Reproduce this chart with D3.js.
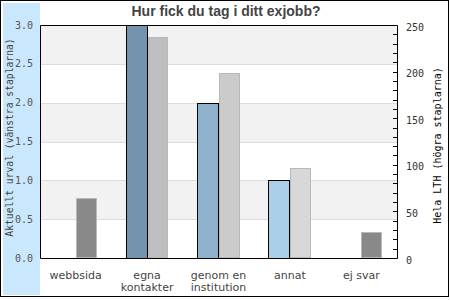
<!DOCTYPE html>
<html>
<head>
<meta charset="utf-8">
<script src="https://cdn.jsdelivr.net/npm/d3@7"></script>
<style>
  body { margin: 0; background: #fff; }
  svg { display: block; }
</style>
</head>
<body>
<div id="chart"></div>
<script>
// Data
const categories = ["webbsida", "egna\nkontakter", "genom en\ninstitution", "annat", "ej svar"]
const urval = [0, 3, 2, 1, 0]          // left bars (Aktuellt urval)
const helaLTH = [64, 237, 199, 97, 28]  // right bars (Hela LTH)
const urvalColors = ["#7393ae", "#7393ae", "#8eb1cc", "#abcfe9", "#7393ae"]
const lthColors = ["#898989", "#bebebe", "#cbcbcb", "#d8d8d8", "#898989"]
const leftTicks = [0, 0.5, 1, 1.5, 2, 2.5, 3]
const rightTicks = [0, 50, 100, 150, 200, 250]

const width = 450, height = 300
const plot = {left: 40, right: 397, top: 25, bottom: 258}
const mono = "'DejaVu Sans Mono', monospace"
const sans = "'DejaVu Sans', sans-serif"

var svg = d3.select("#chart").append("svg")
    .attr("width", width)
    .attr("height", height)

// outer frame + blue band
svg.append("rect")
    .attr("x", 0.5).attr("y", 0.5)
    .attr("width", 448).attr("height", 296)
    .attr("fill", "#fff").attr("stroke", "#000")
svg.append("rect")
    .attr("x", 3).attr("y", 3)
    .attr("width", 37).attr("height", 292)
    .attr("fill", "#c9e7fd")

// scales
var x = d3.scaleBand()
    .domain(d3.range(categories.length))
    .range([plot.left, plot.right])
    .paddingInner(0.4)
    .paddingOuter(0.2)
var x1 = d3.scaleBand().domain(["l", "r"]).range([0, x.bandwidth()])
var yL = d3.scaleLinear().domain([0, 3]).range([plot.bottom, plot.top])
var yR = d3.scaleLinear().domain([0, 250]).range([plot.bottom, plot.top])

// background bands
svg.append("rect")
    .attr("x", plot.left).attr("y", plot.top)
    .attr("width", plot.right - plot.left).attr("height", plot.bottom - plot.top)
    .attr("fill", "#fff")
var bandsG = svg.append("g")
for (let i = 0; i < leftTicks.length - 1; i++) {
    if (i % 2 == 1) {
        bandsG.append("rect")
            .attr("x", plot.left)
            .attr("y", Math.round(yL(leftTicks[i + 1])))
            .attr("width", plot.right - plot.left)
            .attr("height", Math.round(yL(leftTicks[i])) - Math.round(yL(leftTicks[i + 1])))
            .attr("fill", "#f2f2f2")
    }
}
svg.append("g").selectAll("line")
    .data(leftTicks.slice(1, -1))
    .join("line")
    .attr("x1", plot.left).attr("x2", plot.right)
    .attr("y1", d => Math.round(yL(d)) + 0.5)
    .attr("y2", d => Math.round(yL(d)) + 0.5)
    .attr("stroke", "#dcdcdc")

// bars
var bars = svg.append("g")
bars.selectAll(".lth")
    .data(helaLTH)
    .join("rect")
    .attr("class", "lth")
    .attr("x", (d, i) => Math.round(x(i) + x1("r")) + 0.5)
    .attr("y", d => Math.round(yR(d)) + 0.5)
    .attr("width", Math.round(x1.bandwidth()) - 1)
    .attr("height", d => Math.max(0, plot.bottom - Math.round(yR(d)) - 1))
    .attr("fill", (d, i) => lthColors[i])
    .attr("stroke", "#b9b9b9")
urval.forEach((d, i) => {
    if (d <= 0) return
    bars.append("rect")
        .attr("class", "urval")
        .attr("x", Math.round(x(i) + x1("l")) + 0.5)
        .attr("y", Math.round(yL(d)) + 0.5)
        .attr("width", Math.round(x1.bandwidth()))
        .attr("height", plot.bottom - Math.round(yL(d)))
        .attr("fill", urvalColors[i])
        .attr("stroke", "#000")
})

// plot frame (left, top, bottom) and right axis line
svg.append("path")
    .attr("d", `M${plot.right + 0.5},${plot.top + 0.5}H${plot.left + 0.5}V${plot.bottom + 0.5}H${plot.right + 0.5}V${plot.top + 0.5}`)
    .attr("fill", "none").attr("stroke", "#000")

// right minor ticks (inward)
svg.append("g").selectAll("line")
    .data(d3.range(10, 250, 10))
    .join("line")
    .attr("x1", plot.right - 4).attr("x2", plot.right)
    .attr("y1", d => Math.round(yR(d)) + 0.5)
    .attr("y2", d => Math.round(yR(d)) + 0.5)
    .attr("stroke", "#000")

// tick labels
svg.append("g").selectAll("text")
    .data(leftTicks)
    .join("text")
    .attr("x", 33)
    .attr("y", d => yL(d))
    .attr("dy", "0.35em")
    .attr("text-anchor", "end")
    .attr("font-family", mono).attr("font-size", 10)
    .attr("fill", "#555")
    .text(d => d3.format(".1f")(d))
svg.append("g").selectAll("text")
    .data(rightTicks)
    .join("text")
    .attr("x", 406)
    .attr("y", d => yR(d) + 2)
    .attr("dy", "0.35em")
    .attr("font-family", mono).attr("font-size", 10)
    .attr("fill", "#333")
    .text(d => d)

// category labels
categories.forEach((c, i) => {
    let cx = x(i) + x.bandwidth() / 2
    let t = svg.append("text")
        .attr("x", cx)
        .attr("y", 279)
        .attr("text-anchor", "middle")
        .attr("font-family", sans).attr("font-size", 11)
        .attr("fill", "#444")
    c.split("\n").forEach((line, j) => {
        t.append("tspan")
            .attr("x", cx)
            .attr("dy", j == 0 ? 0 : 12)
            .text(line)
    })
})

// axis titles
svg.append("text")
    .attr("transform", `translate(13,${(plot.top + plot.bottom) / 2 - 4}) rotate(-90)`)
    .attr("text-anchor", "middle")
    .attr("font-family", mono).attr("font-size", 9.7)
    .attr("fill", "#444")
    .text("Aktuellt urval (vänstra staplarna)")
svg.append("text")
    .attr("transform", `translate(441,${(plot.top + plot.bottom) / 2 + 4}) rotate(-90)`)
    .attr("text-anchor", "middle")
    .attr("font-family", mono).attr("font-size", 10)
    .attr("fill", "#000")
    .text("Hela LTH (högra staplarna)")

// title
svg.append("text")
    .attr("x", 226).attr("y", 16)
    .attr("text-anchor", "middle")
    .attr("font-family", "'Liberation Sans', Arial, sans-serif")
    .attr("font-weight", "bold").attr("font-size", 14)
    .attr("fill", "#444")
    .text("Hur fick du tag i ditt exjobb?")
</script>
</body>
</html>
